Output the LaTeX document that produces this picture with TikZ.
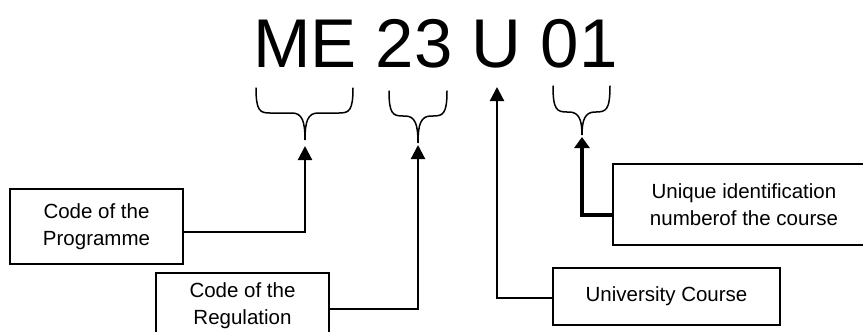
\documentclass[tikz,border=0pt]{standalone}
\usepackage{fontspec}
\setmainfont{Liberation Sans}
\usetikzlibrary{arrows.meta}
\tikzset{
  box/.style={draw,line width=1.4pt,inner sep=0pt,align=center,font=\fontsize{20.5}{26.5}\selectfont},
  conn/.style={line width=2.2pt,-{Triangle[length=14pt,width=14pt]}},
  thickconn/.style={line width=3.4pt,-{Triangle[length=11pt,width=15pt]}},
  brace/.style={line width=1.5pt,line cap=round}
}
\newcommand{\codebrace}[6]{% xl, xm, xr, ytop, yflat, ytip
  \draw[brace] (#1,#4) .. controls (#1,#5-2) and (#1+4,#5) .. (#1+14,#5)
    -- (#2-13,#5) .. controls (#2-3,#5) and (#2,#5+8) .. (#2,#6)
    .. controls (#2,#5+8) and (#2+3,#5) .. (#2+13,#5)
    -- (#3-14,#5) .. controls (#3-4,#5) and (#3,#5-2) .. (#3,#4);
}
\begin{document}
\begin{tikzpicture}[x=1pt,y=-1pt]
\useasboundingbox (0,0) rectangle (863,332);
\node[anchor=base west,inner sep=0pt,font=\fontsize{69}{80}\selectfont] (code) at (253,67) {ME 23 U 01};
% braces
\codebrace{256}{305}{353}{88}{113}{140}
\codebrace{389}{418}{447}{91}{116}{143}
\codebrace{553}{582}{610}{86}{112}{135}
% tips
\coordinate (t1) at (305,146);
\coordinate (t2) at (418,145);
\coordinate (t3) at (497,87);
\coordinate (t4) at (582,137);
% boxes
\node[box,minimum width=173pt,minimum height=75pt] (prog) at (96.5,226.5) {Code of the\\Programme};
\node[box,minimum width=173pt,minimum height=65pt] (reg) at (242.5,305.5) {Code of the\\Regulation};
\node[box,minimum width=227pt,minimum height=57pt] (univ) at (666.5,296.5) {University Course};
\node[box,minimum width=262pt,minimum height=81pt] (uniq) at (744,204.5) {Unique identification\\numberof the course};
% connectors
\draw[conn] (prog.east) ++(0,5.5) -| (t1);
\draw[conn] (reg.east) ++(0,3.5) -| (t2);
\draw[conn] (univ.west) ++(0,1.5) -| (t3);
\draw[thickconn] (uniq.west) ++(0,10.5) -| (t4);
\end{tikzpicture}
\end{document}
